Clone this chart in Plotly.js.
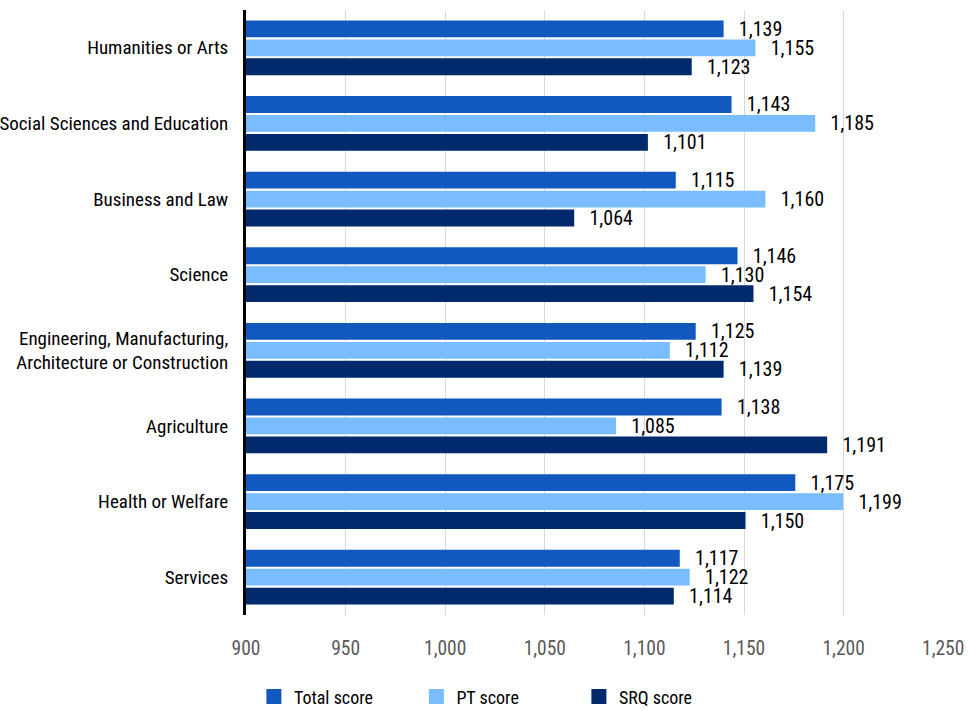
<!DOCTYPE html>
<html>
<head>
<meta charset="utf-8">
<script src="https://cdn.plot.ly/plotly-3.0.1.min.js"></script>
<style>html,body{margin:0;padding:0;background:#fff;}#chart{width:968px;height:711px;}</style>
</head>
<body>
<div id="chart"></div>
<script>
const categories = [
  "Humanities or Arts",
  "Social Sciences and Education",
  "Business and Law",
  "Science",
  "Engineering, Manufacturing,<br>Architecture or Construction",
  "Agriculture",
  "Health or Welfare",
  "Services"
];
const seriesNames = ["Total score", "PT score", "SRQ score"];
const totalScore = [1139, 1143, 1115, 1146, 1125, 1138, 1175, 1117];
const ptScore    = [1155, 1185, 1160, 1130, 1112, 1085, 1199, 1122];
const srqScore   = [1123, 1101, 1064, 1154, 1139, 1191, 1150, 1114];
const xTickVals  = [900, 950, 1000, 1050, 1100, 1150, 1200, 1250];
const xTickText  = ["900", "950", "1,000", "1,050", "1,100", "1,150", "1,200", "1,250"];

const FONT = "'Roboto Condensed', 'Open Sans', sans-serif";
const colors = ["#1259BF", "#79BDFF", "#002A6C"];
const seriesValues = [totalScore, ptScore, srqScore];

const traces = seriesValues.map((vals, i) => ({
  type: "bar",
  orientation: "h",
  name: seriesNames[i],
  y: categories,
  x: vals,
  marker: { color: colors[i], line: { color: colors[i], width: 3 } },
  text: vals.map(v => "\u00a0\u00a0\u00a0" + v.toLocaleString("en-US")),
  textposition: "outside",
  constraintext: "none",
  textfont: { family: FONT, size: 20, color: "#000" },
  cliponaxis: false,
  hoverinfo: "x+name"
}));

const layout = {
  width: 968, height: 711,
  margin: { l: 246, r: 24, t: 9.5, b: 96, autoexpand: false },
  paper_bgcolor: "#fff", plot_bgcolor: "#fff",
  barmode: "group",
  bargap: 0.247,
  bargroupgap: 0.27,
  font: { family: FONT, size: 19, color: "#000" },
  xaxis: {
    range: [900, 1250.4],
    tickvals: xTickVals,
    ticktext: xTickText,
    showgrid: true,
    gridcolor: "#d9d9d9",
    gridwidth: 1,
    zeroline: false,
    showline: false,
    ticks: "",
    tickfont: { family: FONT, size: 19.5, color: "#595959" },
    ticklabelstandoff: 19,
    ticklabeloverflow: "allow",
    fixedrange: true
  },
  yaxis: {
    autorange: "reversed",
    showline: true,
    linecolor: "#000",
    linewidth: 3,
    ticks: "",
    ticklabelstandoff: 11,
    tickfont: { family: FONT, size: 19, color: "#000" },
    fixedrange: true
  },
  showlegend: true,
  legend: {
    orientation: "h",
    x: 0.0113, xanchor: "left",
    y: -0.1354, yanchor: "middle",
    font: { family: FONT, size: 18, color: "#000" },
    entrywidth: 117.5,
    entrywidthmode: "pixels",
    itemwidth: 30,
    tracegroupgap: 0
  }
};

Plotly.newPlot("chart", traces, layout, { displayModeBar: false, staticPlot: true });
</script>
</body>
</html>
